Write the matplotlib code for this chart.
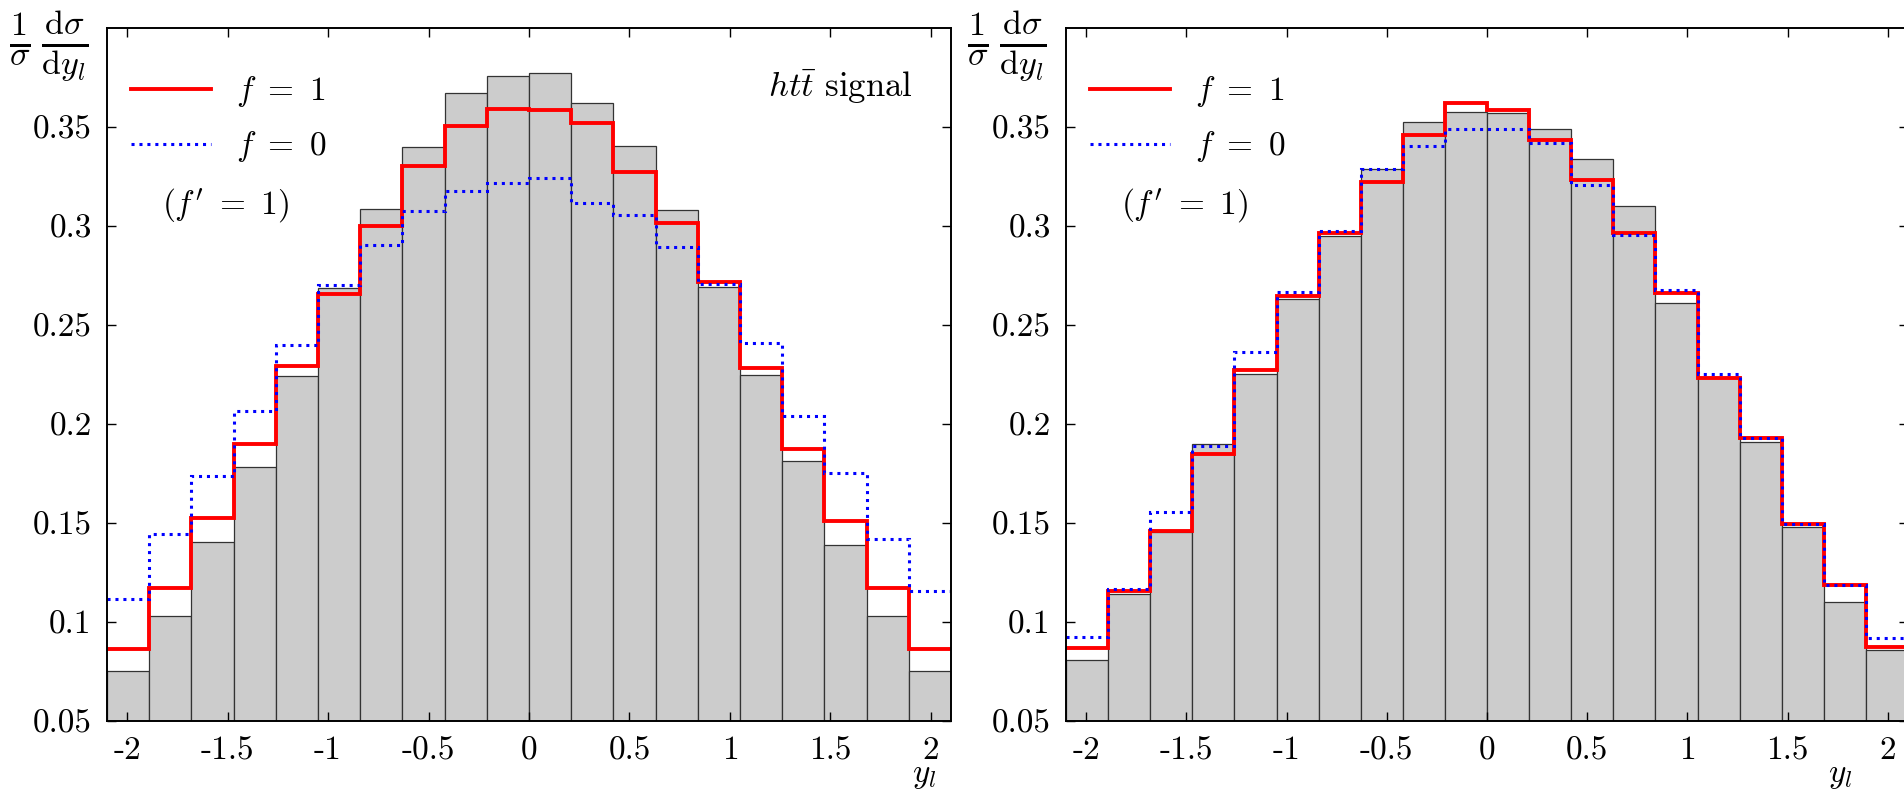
import numpy as np
import matplotlib
matplotlib.use('Agg')
import matplotlib.pyplot as plt
from matplotlib.lines import Line2D

plt.rcParams['font.family'] = 'cmr10'
plt.rcParams['mathtext.fontset'] = 'cm'
plt.rcParams['axes.unicode_minus'] = False
plt.rcParams['axes.formatter.use_mathtext'] = True

# 20 bins in y_l from -2.1 to 2.1
bin_edges = np.linspace(-2.1, 2.1, 21)

# left panel: htt signal
left_mc = [0.0753, 0.103, 0.1404, 0.1784, 0.2242, 0.2688, 0.3088, 0.3399, 0.367, 0.3756,
           0.3771, 0.3621, 0.3406, 0.3079, 0.2692, 0.2246, 0.1813, 0.1389, 0.103, 0.0753]
left_f1 = [0.0865, 0.1172, 0.1525, 0.1897, 0.2295, 0.2655, 0.3002, 0.3301, 0.3505, 0.3591,
           0.3586, 0.3522, 0.3274, 0.3014, 0.2717, 0.2282, 0.1875, 0.1512, 0.117, 0.0865]
left_f0 = [0.1116, 0.1444, 0.1739, 0.2066, 0.24, 0.27, 0.2904, 0.3076, 0.3178, 0.3216,
           0.3241, 0.3118, 0.3056, 0.2894, 0.2708, 0.2411, 0.2042, 0.1751, 0.1419, 0.1157]

# right panel
right_mc = [0.0808, 0.114, 0.1456, 0.1899, 0.2253, 0.2633, 0.2951, 0.3288, 0.3524, 0.3574,
            0.3569, 0.349, 0.334, 0.310, 0.261, 0.223, 0.1908, 0.1478, 0.110, 0.0857]
right_f1 = [0.0869, 0.1157, 0.1461, 0.1847, 0.2273, 0.2645, 0.2966, 0.3222, 0.346, 0.3623,
            0.3586, 0.3432, 0.323, 0.2966, 0.266, 0.2233, 0.1929, 0.1496, 0.1189, 0.0875]
right_f0 = [0.0923, 0.1168, 0.1557, 0.1887, 0.2365, 0.2665, 0.2973, 0.3286, 0.3403, 0.3491,
            0.3491, 0.342, 0.3205, 0.2955, 0.2678, 0.2254, 0.1929, 0.1496, 0.1189, 0.0921]

xticks = [-2, -1.5, -1, -0.5, 0, 0.5, 1, 1.5, 2]
xtick_labels = ['-2', '-1.5', '-1', '-0.5', '0', '0.5', '1', '1.5', '2']
yticks = [0.05, 0.1, 0.15, 0.2, 0.25, 0.3, 0.35]
ytick_labels = ['0.05', '0.1', '0.15', '0.2', '0.25', '0.3', '0.35']

FS = 24
dots = (0, (1, 1.6))

fig = plt.figure(figsize=(19.04, 7.94), dpi=100)
ax1 = fig.add_axes([107 / 1904, 73 / 794, 844 / 1904, 693 / 794])
ax2 = fig.add_axes([1066 / 1904, 73 / 794, 842 / 1904, 693 / 794])

centers = 0.5 * (bin_edges[:-1] + bin_edges[1:])
width = bin_edges[1] - bin_edges[0]


def panel(ax, mc, f1, f0):
    ax.bar(centers, mc, width=width, color='#cccccc', edgecolor='#333333', linewidth=0.9)
    ax.stairs(f1, bin_edges, baseline=None, color='red', linewidth=2.8)
    ax.stairs(f0, bin_edges, baseline=None, color='blue', linewidth=2.2, linestyle=dots)
    ax.set_xlim(-2.1, 2.1)
    ax.set_ylim(0.05, 0.4)
    ax.set_xticks(xticks, labels=xtick_labels)
    ax.set_yticks(yticks, labels=ytick_labels)
    ax.tick_params(direction='in', length=6.5, width=1.0, labelsize=FS,
                   top=True, right=True, pad=11)
    for sp in ax.spines.values():
        sp.set_linewidth(1.4)
    handles = [Line2D([], [], color='red', linewidth=2.8),
               Line2D([], [], color='blue', linewidth=2.2, linestyle=dots)]
    ax.legend(handles, [r'$f\ =\ 1$', r'$f\ =\ 0$'], loc='upper left',
              bbox_to_anchor=(0.028, 0.933), frameon=False, fontsize=FS,
              handlelength=2.4, handletextpad=0.75, labelspacing=0.6,
              borderpad=0, borderaxespad=0)
    ax.text(0.065, 0.745, r"$(f'\ =\ 1)$", transform=ax.transAxes,
            fontsize=FS, ha='left', va='center')


panel(ax1, left_mc, left_f1, left_f0)
panel(ax2, right_mc, right_f1, right_f0)

ax1.text(0.955, 0.915, r'$ht\bar{t}$ signal', transform=ax1.transAxes,
         fontsize=25, ha='right', va='center')

# axis variable sits just under the last tick label
ax1.text(0.968, -0.088, r'$y_l$', transform=ax1.transAxes, fontsize=FS,
         ha='center', va='baseline')
ax2.text(0.919, -0.088, r'$y_l$', transform=ax2.transAxes, fontsize=FS,
         ha='center', va='baseline')

ylab = r'$\frac{1}{\sigma}\,\frac{\mathrm{d}\sigma}{\mathrm{d}y_l}$'
fig.text(0.0255, 0.941, ylab, fontsize=35, ha='center', va='center')
fig.text(0.5285, 0.941, ylab, fontsize=35, ha='center', va='center')

fig.savefig('out.png', dpi=100)
